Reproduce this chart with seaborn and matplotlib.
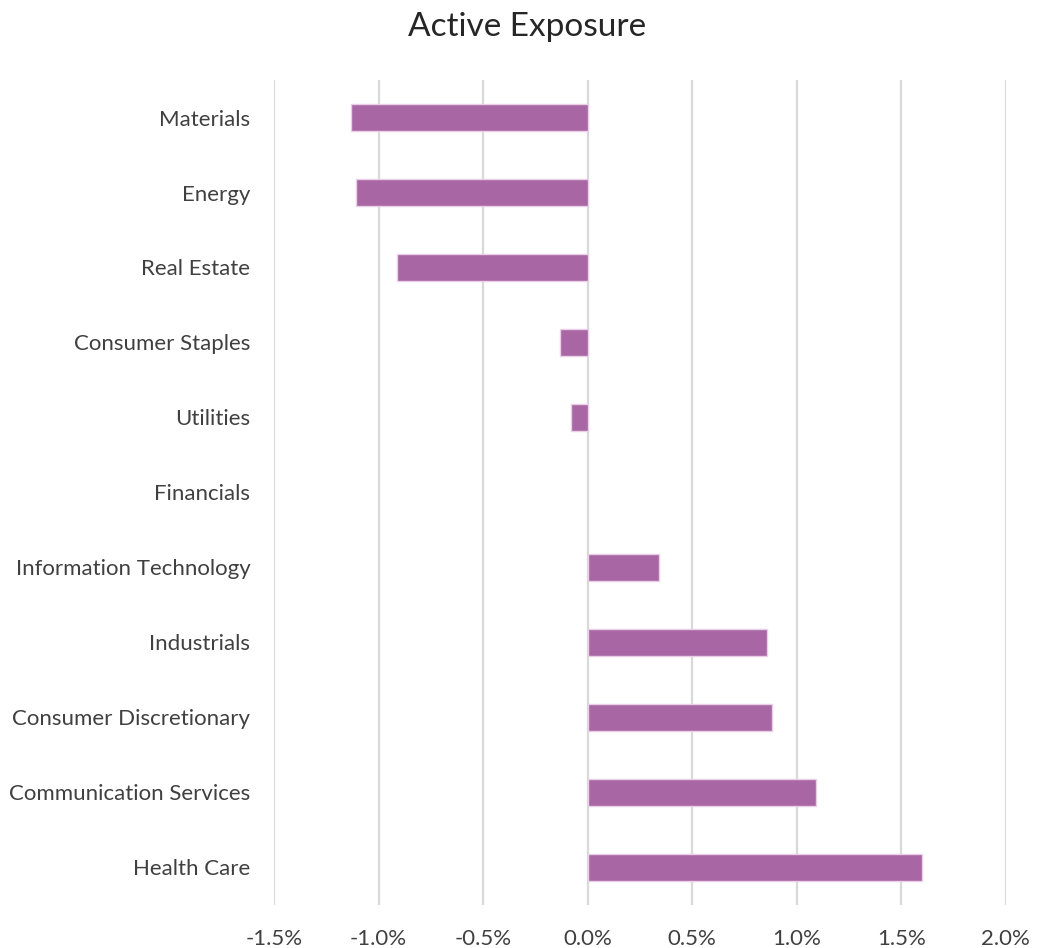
import matplotlib
matplotlib.use("Agg")
import matplotlib.pyplot as plt
import seaborn as sns
import pandas as pd
from matplotlib.ticker import FuncFormatter, MultipleLocator

categories = ["Materials", "Energy", "Real Estate", "Consumer Staples", "Utilities",
              "Financials", "Information Technology", "Industrials",
              "Consumer Discretionary", "Communication Services", "Health Care"]
values = [-1.13, -1.11, -0.91, -0.13, -0.08, 0.0, 0.34, 0.86, 0.88, 1.09, 1.60]

df = pd.DataFrame({"sector": categories, "exposure": values})

sns.set_theme(style="white")
plt.rcParams["font.family"] = ["Lato", "DejaVu Sans"]

fig = plt.figure(figsize=(10.38, 9.48), dpi=100)
ax = fig.add_axes([0.264, 0.0454, 0.705, 0.8702])

sns.barplot(data=df, x="exposure", y="sector", order=categories, color="#A966A5",
            saturation=1, width=0.36, edgecolor="#E8CFE6", linewidth=1, ax=ax, zorder=3)
for p in ax.patches:
    if abs(p.get_width()) < 1e-9:
        p.set_linewidth(0)

ax.set_xlim(-1.5, 2.0)
ax.set_ylim(10.5, -0.5)
ax.xaxis.set_major_locator(MultipleLocator(0.5))
ax.xaxis.set_major_formatter(FuncFormatter(lambda v, p: f"{v:.1f}%"))
ax.grid(axis="x", color="#D9D9D9", linewidth=1.6, zorder=0)
ax.grid(axis="y", visible=False)
for s in ax.spines.values():
    s.set_visible(False)
ax.set_xlabel("")
ax.set_ylabel("")
ax.tick_params(axis="both", length=0, labelsize=16, labelcolor="#404040")
ax.tick_params(axis="y", pad=17)
ax.tick_params(axis="x", pad=17)
fig.text(0.508, 0.971, "Active Exposure", ha="center", va="center", fontsize=24, color="#262626")

fig.savefig("out.png", dpi=100)
